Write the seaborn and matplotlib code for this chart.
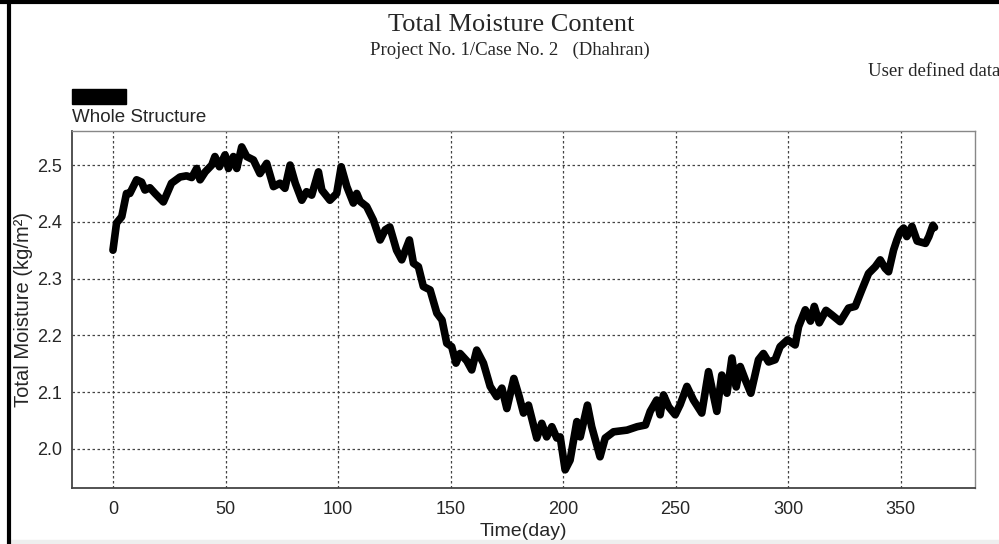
import matplotlib
matplotlib.use("Agg")
import matplotlib.pyplot as plt
from matplotlib.ticker import MultipleLocator
from matplotlib.patches import Rectangle
from matplotlib.lines import Line2D
import seaborn as sns
import pandas as pd

days = [0, 1.6, 3.9, 6, 7.5, 10.5, 12.7, 14.2, 16.4, 18.7, 22.4, 26, 29.8, 32.7, 35,
        37.2, 38.7, 41, 43.9, 45.3, 47.3, 49.8, 51.3, 53.5, 55, 57.2, 59.4, 62.4, 65.3,
        68.3, 71.3, 74.2, 76.4, 78.7, 81, 83.9, 86, 88.3, 91.3, 92.8, 96.4, 99.4, 101.4,
        103.9, 106.8, 108.3, 109.8, 112.7, 115.7, 118.7, 121, 123, 126, 128.3, 131.7,
        133.5, 135.7, 137.9, 140.9, 143.9, 146.2, 148.3, 150.5, 152.4, 154.2, 157.2,
        159.4, 161.6, 164.6, 167.6, 170.5, 172.8, 175, 178.1, 180.5, 182.4, 184.6,
        188.3, 190.5, 192.7, 195, 197.2, 198.7, 200.9, 203.1, 206.1, 207.6, 210.8,
        212.7, 216.4, 218.7, 222.4, 228.4, 232.9, 236.6, 238.7, 241.6, 243.1, 244.6,
        246.9, 249.8, 252, 255, 257.9, 261.6, 264.6, 268.3, 270.5, 272.8, 275, 276.9,
        278.7, 281, 283.4, 286.8, 289, 291.3, 294.2, 296.4, 299.7, 303.1, 304.6, 307.6,
        309.9, 311.6, 313.8, 316.8, 319.4, 323.1, 326.8, 329.8, 332.7, 335.7, 338.7,
        340.9, 343.1, 344.6, 346.8, 348.3, 349.8, 351.3, 352.7, 355, 357.3, 361, 362.5,
        364.3, 365]
moisture = [2.350, 2.398, 2.409, 2.450, 2.450, 2.474, 2.470, 2.456, 2.460, 2.450, 2.435,
            2.468, 2.479, 2.481, 2.478, 2.494, 2.474, 2.488, 2.500, 2.515, 2.497, 2.518,
            2.494, 2.515, 2.494, 2.532, 2.515, 2.509, 2.485, 2.503, 2.462, 2.468, 2.459,
            2.500, 2.468, 2.438, 2.453, 2.447, 2.488, 2.456, 2.438, 2.450, 2.497, 2.462,
            2.433, 2.450, 2.436, 2.427, 2.403, 2.368, 2.386, 2.391, 2.350, 2.333, 2.368,
            2.327, 2.321, 2.286, 2.280, 2.239, 2.227, 2.186, 2.180, 2.151, 2.168, 2.155,
            2.139, 2.174, 2.151, 2.110, 2.092, 2.107, 2.071, 2.124, 2.092, 2.063, 2.077,
            2.019, 2.045, 2.021, 2.039, 2.019, 2.021, 1.963, 1.980, 2.048, 2.021, 2.077,
            2.039, 1.986, 2.019, 2.030, 2.033, 2.039, 2.042, 2.066, 2.086, 2.060, 2.095,
            2.074, 2.060, 2.078, 2.110, 2.086, 2.063, 2.136, 2.066, 2.130, 2.098, 2.160,
            2.109, 2.145, 2.121, 2.098, 2.157, 2.168, 2.153, 2.157, 2.180, 2.192, 2.183,
            2.215, 2.245, 2.225, 2.251, 2.222, 2.244, 2.236, 2.224, 2.248, 2.251, 2.280,
            2.309, 2.321, 2.333, 2.318, 2.312, 2.350, 2.368, 2.383, 2.389, 2.374, 2.392,
            2.366, 2.362, 2.374, 2.394, 2.390]
y_ticks = [2.0, 2.1, 2.2, 2.3, 2.4, 2.5]
y_tick_labels = ["2.0", "2.1", "2.2", "2.3", "2.4", "2.5"]

df = pd.DataFrame({"Time(day)": days, "Total Moisture": moisture})

sns.set_style("white")
plt.rcParams["font.family"] = ["Liberation Sans", "DejaVu Sans"]

fig = plt.figure(figsize=(9.99, 5.44), dpi=100)
ax = fig.add_axes([72/999, 56/544, (975-72)/999, (488-131)/544])

sns.lineplot(data=df, x="Time(day)", y="Total Moisture", ax=ax, color="black",
             linewidth=5.5, solid_capstyle="round", solid_joinstyle="round")

ax.set_xlim(-18.2, 383)
ax.set_ylim(1.931, 2.56)
ax.xaxis.set_major_locator(MultipleLocator(50))
ax.xaxis.set_minor_locator(MultipleLocator(10))
ax.yaxis.set_minor_locator(MultipleLocator(0.05))
ax.set_yticks(y_ticks)
ax.set_yticklabels(y_tick_labels)

ax.grid(True, which="major", linestyle=(0, (2, 2)), color="#444444", linewidth=0.9)
ax.tick_params(axis="x", which="major", direction="inout", length=12, width=1,
               color="#555555", labelsize=13, pad=3)
ax.tick_params(axis="x", which="minor", direction="in", length=9, width=1, color="#555555")
ax.tick_params(axis="y", which="major", direction="out", length=6, width=1,
               color="#555555", labelsize=13, pad=1)
ax.tick_params(axis="y", which="minor", direction="in", length=8, width=1, color="#555555")

for side in ["left", "bottom"]:
    ax.spines[side].set_color("#444444")
    ax.spines[side].set_linewidth(1.3)
for side in ["top", "right"]:
    ax.spines[side].set_color("#888888")
    ax.spines[side].set_linewidth(1.0)

ax.set_xlabel("Time(day)", fontsize=14, labelpad=4)
ax.set_ylabel("Total Moisture (kg/m\u00b2)", fontsize=14.5, labelpad=3)

# titles
serif = ["Liberation Serif", "DejaVu Serif"]
fig.text(511/999, 1 - 25/544, "Total Moisture Content", ha="center", va="center",
         fontsize=19, family=serif)
fig.text(510/999, 1 - 50/544, "Project No. 1/Case No. 2   (Dhahran)", ha="center",
         va="center", fontsize=13.5, family=serif)
fig.text(868/999, 1 - 72/544, "User defined data", ha="left", va="center",
         fontsize=13.5, family=serif)

# legend-like key
fig.patches.append(Rectangle((72/999, 1 - 104/544), 54/999, 15/544,
                             transform=fig.transFigure, color="black"))
fig.text(72/999, 1 - 117/544, "Whole Structure", ha="left", va="center", fontsize=13.5)

# frame borders
fig.lines.append(Line2D([9/999, 9/999], [0, 1], transform=fig.transFigure,
                        color="black", linewidth=3))
fig.lines.append(Line2D([0, 1], [1 - 2/544, 1 - 2/544], transform=fig.transFigure,
                        color="black", linewidth=3))
fig.patches.append(Rectangle((10/999, 0), 1, 4/544, transform=fig.transFigure,
                             color="#eeeeee"))

fig.savefig("out.png", dpi=100)
